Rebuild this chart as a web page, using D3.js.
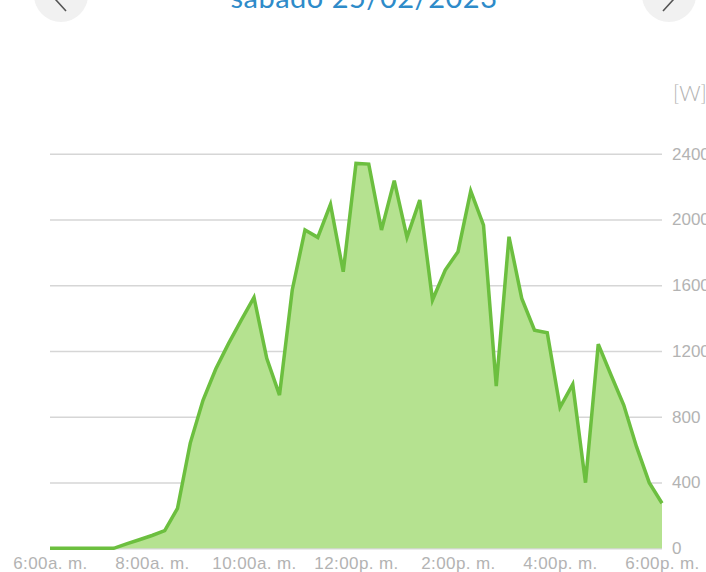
<!DOCTYPE html>
<html>
<head>
<meta charset="utf-8">
<script src="https://cdn.jsdelivr.net/npm/d3@7"></script>
<style>
  html, body { margin: 0; padding: 0; background: #fff; overflow: hidden; }
  svg { display: block; font-family: 'Lato', sans-serif; }
  .grid line { stroke: #d6d6d6; stroke-width: 1.5; }
  .grid text { fill: #b3b3b3; font-size: 17px; font-weight: 300; }
  .axisX text { fill: #b3b3b3; font-size: 17px; font-weight: 300; letter-spacing: 0.4px; }
</style>
</head>
<body>
<div id="chart"></div>
<script>
'use strict';

// potencia [W] cada 15 minutos, 6:00 - 18:00
const times = [
  '06:00', '06:15', '06:30', '06:45', '07:00', '07:15', '07:30', '07:45',
  '08:00', '08:15', '08:30', '08:45', '09:00', '09:15', '09:30', '09:45',
  '10:00', '10:15', '10:30', '10:45', '11:00', '11:15', '11:30', '11:45',
  '12:00', '12:15', '12:30', '12:45', '13:00', '13:15', '13:30', '13:45',
  '14:00', '14:15', '14:30', '14:45', '15:00', '15:15', '15:30', '15:45',
  '16:00', '16:15', '16:30', '16:45', '17:00', '17:15', '17:30', '17:45',
  '18:00'
];
const power = [
  0, 0, 0, 0, 0, 0, 27, 52,
  78, 107, 243, 640, 900, 1090, 1245, 1388,
  1526, 1155, 932, 1571, 1936, 1891, 2092, 1682,
  2341, 2337, 1936, 2236, 1891, 2118, 1510, 1692,
  1804, 2173, 1966, 987, 1895, 1520, 1327, 1311,
  857, 997, 399, 1242, 1054, 871, 618, 399,
  274
];

const xTicks = [6, 8, 10, 12, 14, 16, 18];
const xTickLabels = ['6:00a. m.', '8:00a. m.', '10:00a. m.', '12:00p. m.', '2:00p. m.', '4:00p. m.', '6:00p. m.'];
const yTicks = [0, 400, 800, 1200, 1600, 2000, 2400];

const title = 'sábado 25/02/2023';
const unit = '[W]';

function toHours(t) {
  const [h, m] = t.split(':').map(Number);
  return h + m / 60;
}

function drawChart(elementID) {
  const width = 706;
  const height = 572;
  const left = 50;
  const right = 662;
  const bottom = 548.3;
  const top = 153.7;

  const data = times.map((t, i) => [toHours(t), power[i]]);

  const scaleX = d3.scaleLinear()
    .domain([6, 18])
    .range([left, right]);

  const scaleY = d3.scaleLinear()
    .domain([0, 2400])
    .range([bottom, top]);

  const svg = d3.select('#' + elementID)
    .append('svg')
    .attr('width', width)
    .attr('height', height);

  // cabecera
  svg.append('circle')
    .attr('cx', 61).attr('cy', -5).attr('r', 27)
    .attr('fill', '#f1f1f1');
  svg.append('circle')
    .attr('cx', 669).attr('cy', -5).attr('r', 27)
    .attr('fill', '#f1f1f1');
  svg.append('path')
    .attr('d', 'M 66 -12 L 56 0 L 66 11')
    .attr('fill', 'none').attr('stroke', '#555').attr('stroke-width', 1.6);
  svg.append('path')
    .attr('d', 'M 663 -12 L 673 0 L 663 11')
    .attr('fill', 'none').attr('stroke', '#555').attr('stroke-width', 1.6);

  svg.append('text')
    .attr('x', 364)
    .attr('y', 7.5)
    .attr('text-anchor', 'middle')
    .attr('fill', '#2e8bc9')
    .style('font-size', '29px')
    .style('letter-spacing', '0.5px')
    .text(title);

  svg.append('text')
    .attr('x', 673)
    .attr('y', 101)
    .attr('fill', '#b3b3b3')
    .style('font-size', '21px')
    .style('font-weight', 300)
    .text(unit);

  // rejilla + eje Y a la derecha
  const yAxis = d3.axisRight(scaleY)
    .tickValues(yTicks)
    .tickSize(-(right - left))
    .tickPadding(10)
    .tickFormat(d3.format('d'));

  svg.append('g')
    .attr('class', 'grid')
    .attr('transform', `translate(${right}, 0)`)
    .call(yAxis)
    .call(g => g.select('.domain').remove());

  // area y linea
  const area = d3.area()
    .x(d => scaleX(d[0]))
    .y0(scaleY(0))
    .y1(d => scaleY(d[1]));

  const line = d3.line()
    .x(d => scaleX(d[0]))
    .y(d => scaleY(d[1]));

  svg.append('path')
    .datum(data)
    .attr('d', area)
    .attr('fill', '#b5e290');

  svg.append('path')
    .datum(data)
    .attr('d', line)
    .attr('fill', 'none')
    .attr('stroke', '#6cbf3f')
    .attr('stroke-width', 3.5)
    .attr('stroke-linejoin', 'miter');

  // eje X
  const xAxis = d3.axisBottom(scaleX)
    .tickValues(xTicks)
    .tickSize(0)
    .tickPadding(9)
    .tickFormat((d, i) => xTickLabels[i]);

  svg.append('g')
    .attr('class', 'axisX')
    .attr('transform', `translate(0, ${bottom})`)
    .call(xAxis)
    .call(g => g.select('.domain').remove());
}

drawChart('chart');
</script>
</body>
</html>
